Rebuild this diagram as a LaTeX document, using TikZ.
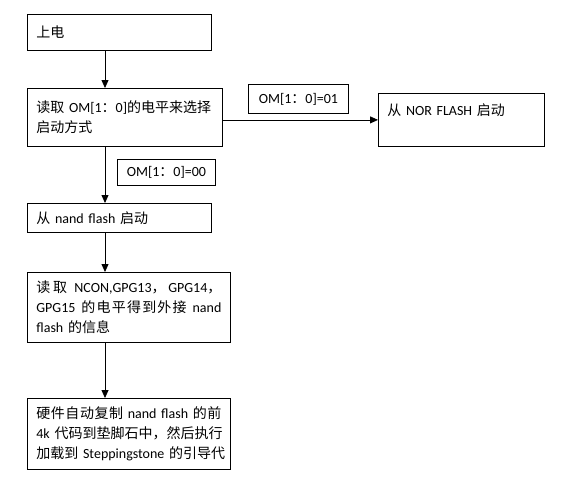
\documentclass[tikz,border=0pt]{standalone}
\usepackage{fontspec}
\setmainfont{Carlito}
\newfontfamily\cjkf{Noto Sans CJK SC}
\newcommand\zh[1]{{\cjkf #1}}
\newcommand\jg{\hskip 0pt plus 1fil\relax}
\newcommand\fs{\fontsize{14}{20}\selectfont\parindent=0pt}
\usetikzlibrary{arrows.meta}
\tikzset{
  box/.style={draw, line width=0.8pt, anchor=north west, inner xsep=9pt, inner ysep=0pt, align=left, font=\fs},
  bx/.style n args={2}{text width=#1, minimum height=#2},
  lbl/.style={draw, line width=0.8pt, anchor=north west, inner sep=0pt, align=center, font=\fs},
  arr/.style={line width=0.8pt, -{Triangle[length=8pt,width=7pt]}}
}
\begin{document}
\begin{tikzpicture}[x=1pt,y=-1pt]
\useasboundingbox (0,0) rectangle (562,488);
\coordinate (ax) at (105,0);
\node[box, bx={166pt}{36pt}] (b1) at (27,14) {\zh{上电}};
\node[box, bx={177pt}{58pt}] (b2) at (27,88) {\zh{读取} OM[1\zh{：}0]\zh{的电平来选择}\\\zh{启动方式}};
\node[box, bx={166pt}{29pt}] (b3) at (27,203) {\zh{从} nand flash \zh{启动}};
\node[box, bx={185pt}{70pt}] (b4) at (27,272) {%
\makebox[\linewidth][s]{\zh{读}\jg\zh{取} \jg NCON,GPG13\zh{，}\jg GPG14\zh{，}}\\
\makebox[\linewidth][s]{GPG15 \jg\zh{的}\jg\zh{电}\jg\zh{平}\jg\zh{得}\jg\zh{到}\jg\zh{外}\jg\zh{接} \jg nand}\\
flash \zh{的信息}};
\node[box, bx={185pt}{71pt}] (b5) at (27,398) {%
\makebox[\linewidth][s]{\zh{硬}\jg\zh{件}\jg\zh{自}\jg\zh{动}\jg\zh{复}\jg\zh{制} nand flash \zh{的}\jg\zh{前}}\\
\makebox[\linewidth][s]{4k \zh{代}\jg\zh{码}\jg\zh{到}\jg\zh{垫}\jg\zh{脚}\jg\zh{石}\jg\zh{中}\jg\zh{，}\jg\zh{然}\jg\zh{后}\jg\zh{执}\jg\zh{行}}\\
\makebox[\linewidth][s]{\zh{加}\jg\zh{载}\jg\zh{到} Steppingstone \zh{的}\jg\zh{引}\jg\zh{导}\jg\zh{代}}};
\node[box, bx={148pt}{53pt}, inner xsep=9pt] (nor) at (378,93) {\zh{从} NOR FLASH \zh{启动}\\\mbox{}};
\node[lbl, minimum width=98pt, minimum height=26pt] (l0) at (117,159) {OM[1\zh{：}0]=00};
\node[lbl, minimum width=100pt, minimum height=29pt] (l1) at (248,84) {OM[1\zh{：}0]=01};
\draw[arr] (b1.south -| ax) -- (b2.north -| ax);
\draw[arr] (b2.south -| ax) -- (b3.north -| ax);
\draw[arr] (b3.south -| ax) -- (b4.north -| ax);
\draw[arr] (b4.south -| ax) -- (b5.north -| ax);
\draw[arr] (nor.west -| b2.east) -- (nor.west);
\end{tikzpicture}
\end{document}
